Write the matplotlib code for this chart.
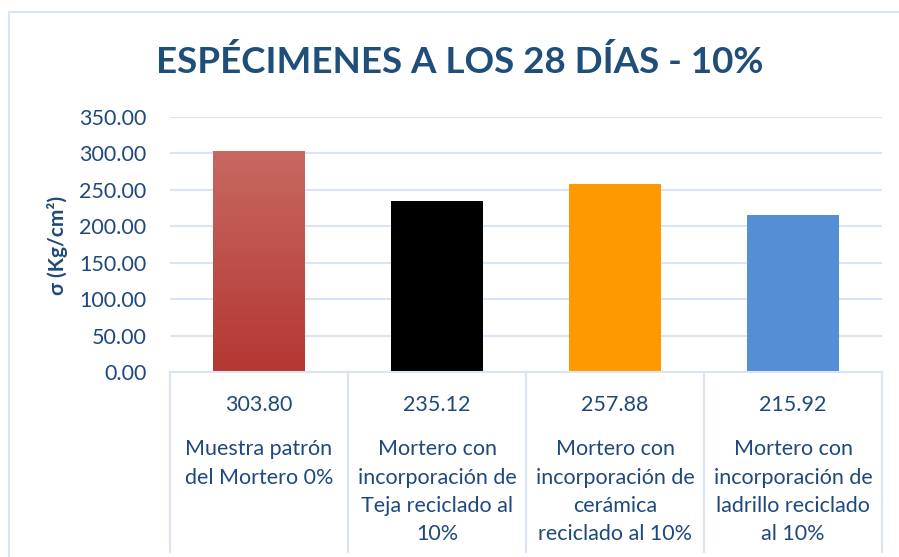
import matplotlib
matplotlib.use("Agg")
import matplotlib.pyplot as plt
import matplotlib.transforms as mtransforms
from matplotlib.patches import Rectangle
import numpy as np

plt.rcParams['font.family'] = ['Lato', 'DejaVu Sans']

title = "ESPÉCIMENES A LOS 28 DÍAS - 10%"
categories = [
    "Muestra patrón\ndel Mortero 0%",
    "Mortero con\nincorporación de\nTeja reciclado al\n10%",
    "Mortero con\nincorporación de\ncerámica\nreciclado al 10%",
    "Mortero con\nincorporación de\nladrillo reciclado\nal 10%",
]
values = [303.80, 235.12, 257.88, 215.92]
value_labels = ["303.80", "235.12", "257.88", "215.92"]
bar_colors = ["#C0504D", "#000000", "#FF9900", "#558ED5"]
yticks = [0, 50, 100, 150, 200, 250, 300, 350]
ylabel = "σ (Kg/cm²)"

text_color = "#1F497D"
grid_color = "#D9E4F5"

W, H = 899, 557
fig = plt.figure(figsize=(W / 100, H / 100), dpi=100)

# chart border
fig.add_artist(Rectangle((9 / W, -0.1), 1.0, (H - 12) / H + 0.1, transform=fig.transFigure,
                         fill=False, edgecolor=grid_color, linewidth=1.5))

left, right = 170 / W, 882 / W
bottom, top = (H - 372) / H, (H - 117) / H
ax = fig.add_axes([left, bottom, right - left, top - bottom])
ax.set_xlim(-0.5, len(values) - 0.5)
ax.set_ylim(0, 350)
for s in ax.spines.values():
    s.set_visible(False)
ax.set_yticks(yticks)
ax.set_yticklabels([f"{v:.2f}" for v in yticks], fontsize=15.5, color=text_color)
ax.tick_params(axis='y', length=0, pad=17)
ax.set_xticks([])
ax.yaxis.grid(True, color=grid_color, linewidth=1.5)
ax.set_axisbelow(True)

bars = ax.bar(range(len(values)), values, width=0.515, color=bar_colors, zorder=2)

# gradient on first bar
b0 = bars[0]
b0.set_facecolor("none")
x0, w0, h0 = b0.get_x(), b0.get_width(), b0.get_height()
top_c = np.array([200, 104, 98]) / 255
bot_c = np.array([180, 55, 50]) / 255
t = np.linspace(0, 1, 256)[:, None]
grad = (top_c[None, :] * (1 - t) + bot_c[None, :] * t)[:, None, :]
im = ax.imshow(grad, extent=[x0, x0 + w0, 0, h0], aspect='auto', zorder=2,
               origin='upper', interpolation='bilinear')
im.set_clip_path(b0)

fig.text(58 / W, (H - 245) / H, ylabel, rotation=90, ha='center', va='center',
         fontsize=15, fontweight='bold', color=text_color)

# data table under the axes
trans = mtransforms.blended_transform_factory(ax.transData, ax.transAxes)
ax_h_px = 372 - 117
def ypix(p):
    return (372 - p) / ax_h_px

for k in range(len(values) + 1):
    ax.plot([k - 0.5, k - 0.5], [0, ypix(552)], transform=trans, color=grid_color,
            linewidth=1.5, clip_on=False)
ax.plot([-0.5, len(values) - 0.5], [0, 0], transform=trans, color=grid_color,
        linewidth=1.5, clip_on=False)

for i, (vl, cat) in enumerate(zip(value_labels, categories)):
    ax.text(i, ypix(405), vl, transform=trans, ha='center', va='center',
            fontsize=15.5, color=text_color, clip_on=False)
    for j, line in enumerate(cat.split("\n")):
        ax.text(i, ypix(449 + 28.5 * j), line, transform=trans, ha='center', va='center',
                fontsize=15.5, color=text_color, clip_on=False)

fig.text(460 / W, (H - 62) / H, title, ha='center', va='center', fontsize=26.5,
         fontweight='bold', color="#1F4E79")

fig.savefig("out.png", dpi=100)
